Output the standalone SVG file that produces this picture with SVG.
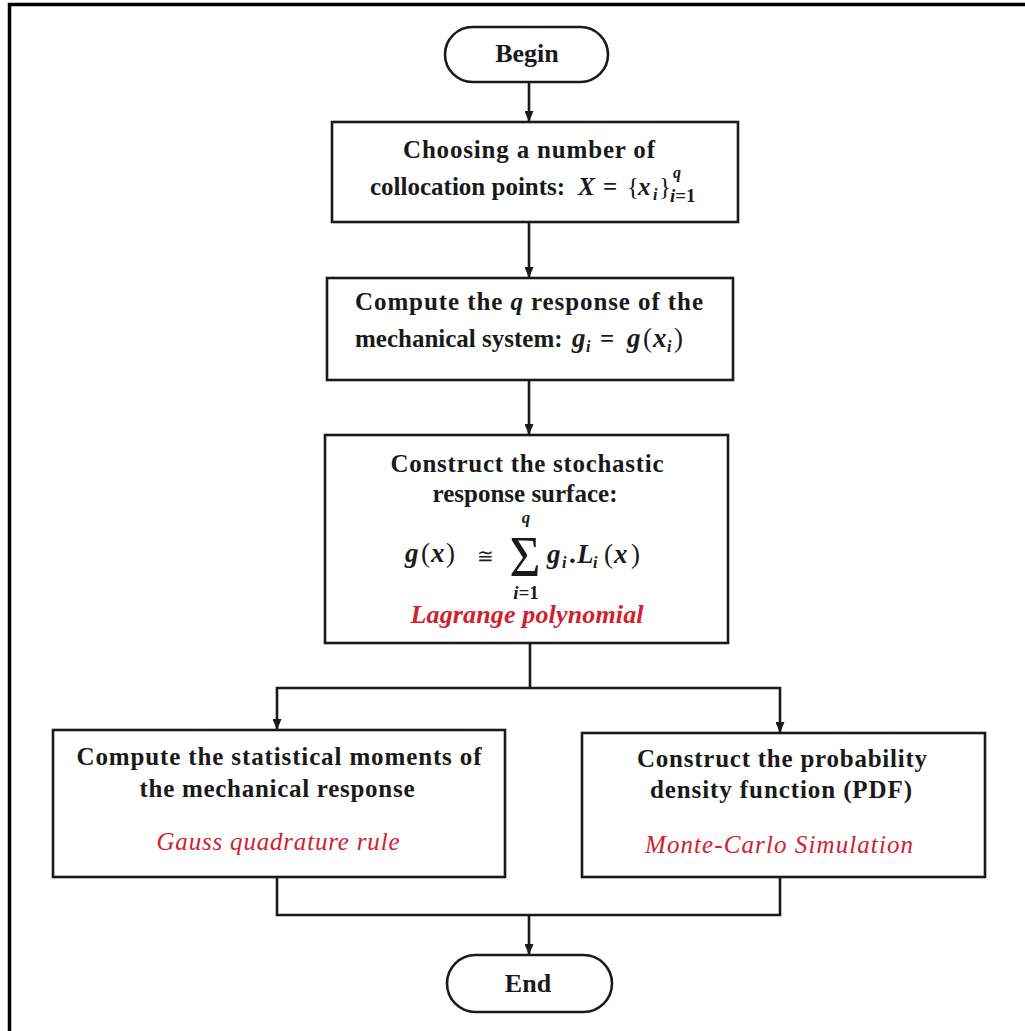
<svg xmlns="http://www.w3.org/2000/svg" width="1025" height="1031" viewBox="0 0 1025 1031">
<defs>
<style>
.frame{fill:none;stroke:#000;stroke-width:3.5}
.box{fill:#fff;stroke:#1a1a1a;stroke-width:2.6}
.conn{fill:none;stroke:#1a1a1a;stroke-width:2.6}
.t{font-family:"Liberation Serif","Times New Roman",serif;font-weight:bold;font-size:25px;fill:#1a1a1a}
.c{text-anchor:middle}
.m{font-style:italic;font-weight:bold}
.nw{font-weight:normal}
.sub{font-size:16px}
.s17{font-size:17px}
.s19{font-size:19px}
.s26{font-size:26px}
.s27{font-size:27px}
.sig{font-size:56px}
.cong{font-family:"DejaVu Serif",serif;font-size:20px;font-weight:normal}
.red{fill:#d3202f;font-style:italic}
</style>
<marker id="ah" viewBox="0 0 11 9" refX="11" refY="4.5" markerWidth="11" markerHeight="9" markerUnits="userSpaceOnUse" orient="auto">
<path d="M0,0 L11,4.5 L0,9 z" fill="#1a1a1a"/>
</marker>
</defs>
<rect width="1025" height="1031" fill="#fff"/>
<path class="frame" d="M9.5,1031 V4.5 H1025"/>

<g id="connectors">
<path class="conn" d="M529,82 V122" marker-end="url(#ah)"/>
<path class="conn" d="M529,222 V278" marker-end="url(#ah)"/>
<path class="conn" d="M529,380 V435" marker-end="url(#ah)"/>
<path class="conn" d="M530,643 V688"/>
<path class="conn" d="M530,688 H277 V730" marker-end="url(#ah)"/>
<path class="conn" d="M530,688 H780 V733" marker-end="url(#ah)"/>
<path class="conn" d="M277,877 V915 H780 V877"/>
<path class="conn" d="M529,915 V955" marker-end="url(#ah)"/>
</g>

<g id="begin">
<rect class="box" x="445" y="27" width="163" height="55" rx="27.5"/>
<text class="t s26 c" x="527" y="62">Begin</text>
</g>

<g id="choose">
<rect class="box" x="332" y="122" width="406" height="100"/>
<text class="t c" x="529" y="158" textLength="252">Choosing a number of</text>
<text class="t" x="370" y="195">collocation points:</text>
<text class="t m" x="578" y="195">X</text>
<text class="t" x="603" y="195">=</text>
<text class="t nw" x="627" y="195">{</text>
<text class="t m" x="638" y="195">x</text>
<text class="t m sub" x="653" y="200">i</text>
<text class="t nw" x="659" y="195">}</text>
<text class="t m sub" x="673" y="178">q</text>
<text class="t s19" x="670" y="202"><tspan class="m">i</tspan>=1</text>
</g>

<g id="compute">
<rect class="box" x="327" y="278" width="406" height="102"/>
<text class="t" x="355" y="310" textLength="348">Compute the <tspan class="m">q</tspan> response of the</text>
<text class="t" x="355" y="347">mechanical system:</text>
<text class="t m s27" x="572" y="347">g</text>
<text class="t m sub" x="586" y="352">i</text>
<text class="t" x="600" y="347">=</text>
<text class="t m s27" x="627" y="347">g</text>
<text class="t nw s27" x="643" y="347">(</text>
<text class="t m s27" x="653" y="347">x</text>
<text class="t m sub" x="667" y="352">i</text>
<text class="t nw s27" x="674" y="347">)</text>
</g>

<g id="surface">
<rect class="box" x="325" y="435" width="403" height="208"/>
<text class="t c" x="527" y="472" textLength="273">Construct the stochastic</text>
<text class="t c" x="525" y="502">response surface:</text>
<text class="t m s17 c" x="526" y="523">q</text>
<text class="t m s27" x="405" y="562">g</text>
<text class="t nw s27" x="421" y="562">(</text>
<text class="t m s27" x="431" y="562">x</text>
<text class="t nw s27" x="446" y="562">)</text>
<text class="t cong c" x="485" y="563">≅</text>
<text class="t nw sig c" x="525" y="576" textLength="31" lengthAdjust="spacingAndGlyphs">Σ</text>
<text class="t s19 c" x="526" y="599"><tspan class="m">i</tspan>=1</text>
<text class="t m s27" x="547" y="563">g</text>
<text class="t m sub" x="562" y="568">i</text>
<text class="t s27" x="569" y="563">.</text>
<text class="t m s27" x="577" y="563">L</text>
<text class="t m sub" x="593" y="568">i</text>
<text class="t nw s27" x="604" y="563">(</text>
<text class="t m s27" x="614" y="563">x</text>
<text class="t nw s27" x="631" y="563">)</text>
<text class="t red s26 c" x="527" y="623" textLength="233">Lagrange polynomial</text>
</g>

<g id="moments">
<rect class="box" x="53" y="730" width="452" height="147"/>
<text class="t c" x="279" y="765" textLength="405">Compute the statistical moments of</text>
<text class="t c" x="277" y="797" textLength="275">the mechanical response</text>
<text class="t red nw c" x="278" y="850" textLength="243">Gauss quadrature rule</text>
</g>

<g id="pdf">
<rect class="box" x="582" y="733" width="403" height="144"/>
<text class="t c" x="782" y="767" textLength="290">Construct the probability</text>
<text class="t c" x="781" y="798" textLength="262">density function (PDF)</text>
<text class="t red nw c" x="779" y="853" textLength="268">Monte-Carlo Simulation</text>
</g>

<g id="end">
<rect class="box" x="447" y="955" width="165" height="57" rx="28.5"/>
<text class="t s26 c" x="528" y="992">End</text>
</g>
</svg>
